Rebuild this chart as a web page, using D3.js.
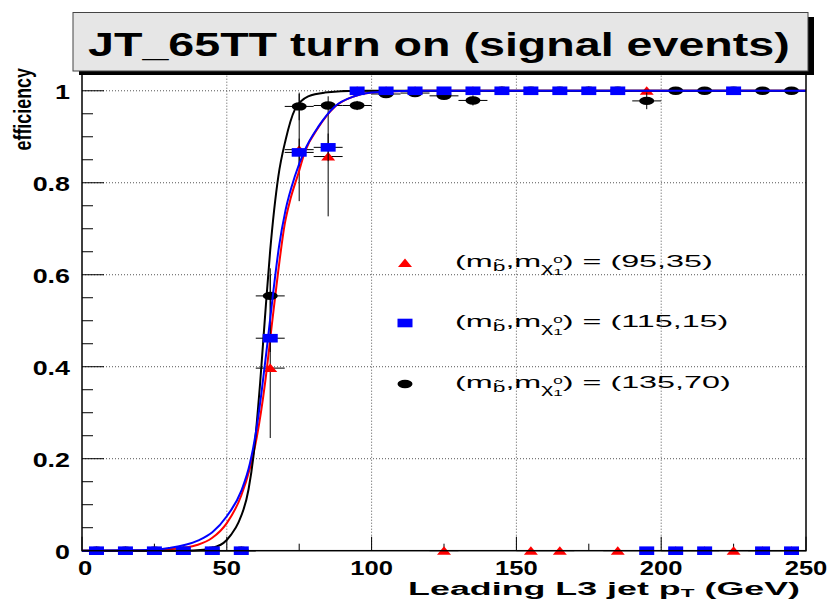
<!DOCTYPE html>
<html><head><meta charset="utf-8">
<script src="https://cdn.jsdelivr.net/npm/d3@7"></script>
<style>body{margin:0;background:#fff} svg{display:block}</style>
</head><body>
<svg id="c" width="835" height="599"></svg>
<script>
// ---------------- data ----------------
const binCenters = [5,15,25,35,45,55,65,75,85,95,105,115,125,135,145,155,165,175,185,195,205,215,225,235,245];
const binHalfWidth = 5;

// (m_b~, m_chi) = (95,35)  red triangles
const effRed   = [0,0,0,0,0,0,0.397,0.872,0.857,1,1,1,0,1,1,0,0,1,0,1,0,0,0,0,0];
const errRedLo = [0,0,0,0,0,0,0.152,0.112,0.130,0,0,0,0,0,0,0,0,0,0,0,0,0,0,0,0];
const errRedHi = [0,0,0,0,0,0,0.203,0.121,0.095,0,0,0,0,0,0,0,0,0,0,0,0,0,0,0,0];

// (115,15) blue squares
const effBlue  = [0,0,0,0,0,0,0.462,0.866,0.877,1,1,1,1,1,1,1,1,1,1,0,0,0,1,0,0];
const errBlue  = [0,0,0,0,0,0,0.03,0.03,0.03,0,0,0,0,0,0,0,0,0,0,0,0,0,0,0,0];

// (135,70) black circles
const effBlack = [0,0,0,0,0,0,0.554,0.966,0.968,0.968,0.993,0.995,0.989,0.979,1,1,1,1,1,0.978,1,1,1,1,1];
const errBlack = [0,0,0,0,0,0,0.06,0.03,0.02,0.01,0.005,0.004,0.006,0.011,0,0,0,0,0,0.018,0,0,0,0,0];

// fitted turn-on curves [pT, efficiency]
const fitRed = [[0,0],[20,0.0005],[30,0.003],[40,0.013],[45,0.028],[50,0.06],[55,0.12],[58,0.18],[60.3,0.245],[63.2,0.364],[65.5,0.488],[67.8,0.61],[70,0.71],[72,0.765],[74.7,0.82],[77,0.868],[81.6,0.92],[87.3,0.965],[94,0.988],[100,0.996],[115,1],[250,1]];
const fitBlue = [[0,0],[20,0.001],[30,0.006],[40,0.022],[45,0.04],[50,0.075],[55,0.13],[58,0.19],[60,0.255],[62,0.345],[64,0.45],[66,0.56],[68,0.66],[70.3,0.741],[73.5,0.814],[77,0.872],[81.6,0.922],[87.3,0.966],[94,0.988],[100,0.996],[115,1],[250,1]];
const fitBlack = [[0,0],[35,0],[42,0.002],[46,0.008],[48.9,0.017],[51.5,0.035],[54,0.061],[57.5,0.133],[59.2,0.205],[61.5,0.364],[63.2,0.509],[65,0.654],[67.8,0.814],[70.3,0.893],[73.5,0.959],[78.1,0.988],[83.8,0.996],[95,1],[250,1]];

const xMajorTicks = [0,50,100,150,200,250];
const xMinorTicks = [25,75,125,175,225];
const yMajorTicks = [0,0.2,0.4,0.6,0.8,1];
const yMinorTicks = [0.05,0.1,0.15,0.25,0.3,0.35,0.45,0.5,0.55,0.65,0.7,0.75,0.85,0.9,0.95];
const yTickLabels = ["0","0.2","0.4","0.6","0.8","1"];
const xTickLabels = ["0","50","100","150","200","250"];

const titleText = "JT_65TT turn on (signal events)";
const legendMasses = ["(95,35)","(115,15)","(135,70)"];

// ---------------- drawing ----------------
const svg = d3.select("#c");
const x = d3.scaleLinear().domain([0,250]).range([82,806]);
const y = d3.scaleLinear().domain([0,1.043]).range([550.7,71]);
const FONT = "'Liberation Sans', Arial, Helvetica, sans-serif";

function stretch(g, textSel, target){
  const w = textSel.node().getBBox().width;
  g.attr("transform", g.attr("transform") + ` scale(${target/w},1)`);
}

svg.append("rect").attr("width",835).attr("height",599).attr("fill","#fff");

// grid
const grid = svg.append("g").attr("stroke","#555").attr("stroke-width",1).attr("stroke-dasharray","1,2");
grid.selectAll(".gx").data(xMajorTicks.filter(v=>v>0&&v<250)).enter().append("line")
  .attr("x1",d=>x(d)).attr("x2",d=>x(d)).attr("y1",y.range()[0]).attr("y2",y.range()[1]);
grid.selectAll(".gy").data(yMajorTicks.filter(v=>v>0)).enter().append("line")
  .attr("y1",d=>y(d)).attr("y2",d=>y(d)).attr("x1",x.range()[0]).attr("x2",x.range()[1]);

// ticks
const ticks = svg.append("g").attr("stroke","#000").attr("stroke-width",1);
ticks.selectAll(".tx").data(xMajorTicks).enter().append("line")
  .attr("x1",d=>x(d)).attr("x2",d=>x(d)).attr("y1",y(0)).attr("y2",y(0)-14);
ticks.selectAll(".tx2").data(xMinorTicks).enter().append("line")
  .attr("x1",d=>x(d)).attr("x2",d=>x(d)).attr("y1",y(0)).attr("y2",y(0)-7);
ticks.selectAll(".ty").data(yMajorTicks).enter().append("line")
  .attr("y1",d=>y(d)).attr("y2",d=>y(d)).attr("x1",x(0)).attr("x2",x(0)+22);
ticks.selectAll(".ty2").data(yMinorTicks).enter().append("line")
  .attr("y1",d=>y(d)).attr("y2",d=>y(d)).attr("x1",x(0)).attr("x2",x(0)+11);

// series
const series = [
  {eff:effRed, lo:errRedLo, hi:errRedHi, fit:fitRed, color:"#ff0000", marker:"tri"},
  {eff:effBlack, lo:errBlack, hi:errBlack, fit:fitBlack, color:"#000000", marker:"circ"},
  {eff:effBlue, lo:errBlue, hi:errBlue, fit:fitBlue, color:"#0000ff", marker:"sq"}
];
function drawMarker(g, type, color, cx, cy){
  if(type==="tri"){
    g.append("path").attr("d",`M${cx-7},${cy+4} L${cx+7},${cy+4} L${cx},${cy-4.5} Z`).attr("fill",color);
  } else if(type==="sq"){
    g.append("rect").attr("x",cx-7.5).attr("y",cy-4.3).attr("width",15).attr("height",8.6).attr("fill",color);
  } else {
    g.append("ellipse").attr("cx",cx).attr("cy",cy).attr("rx",7.5).attr("ry",4.2).attr("fill",color);
  }
}
const line = d3.line().x(d=>x(d[0])).y(d=>y(d[1])).curve(d3.curveMonotoneX);
series.forEach(s=>{
  const g = svg.append("g");
  binCenters.forEach((c,i)=>{
    g.append("line").attr("x1",x(c-binHalfWidth)).attr("x2",x(c+binHalfWidth))
      .attr("y1",y(s.eff[i])).attr("y2",y(s.eff[i])).attr("stroke","#000").attr("stroke-width",1);
    if(s.lo[i]>0 || s.hi[i]>0){
      g.append("line").attr("x1",x(c)).attr("x2",x(c))
        .attr("y1",y(s.eff[i]-s.lo[i])).attr("y2",y(Math.min(s.eff[i]+s.hi[i],1.043)))
        .attr("stroke","#000").attr("stroke-width",1);
    }
  });
  binCenters.forEach((c,i)=> drawMarker(g, s.marker, s.color, x(c), y(s.eff[i])));
  g.append("path").attr("d",line(s.fit)).attr("fill","none").attr("stroke",s.color).attr("stroke-width",2);
});

// frame
svg.append("rect").attr("x",x(0)).attr("y",y.range()[1]).attr("width",x(250)-x(0)).attr("height",y(0)-y.range()[1])
  .attr("fill","none").attr("stroke","#000").attr("stroke-width",1.5);

// tick labels
const TS = 1.28;
yMajorTicks.forEach((v,i)=>{
  const g = svg.append("g").attr("transform",`translate(70,${y(v)+8}) scale(${TS},1)`);
  g.append("text").attr("text-anchor","end").attr("font-family",FONT).attr("font-weight","bold")
    .attr("font-size",21).text(yTickLabels[i]);
});
xMajorTicks.forEach((v,i)=>{
  const g = svg.append("g").attr("transform",`translate(${x(v)+(v===0?3:0)},575) scale(${TS},1)`);
  g.append("text").attr("text-anchor","middle").attr("font-family",FONT).attr("font-weight","bold")
    .attr("font-size",20).text(xTickLabels[i]);
});

// axis titles
{
  const g = svg.append("g").attr("transform","translate(800,594.5)");
  const t = g.append("text").attr("text-anchor","end").attr("font-family",FONT).attr("font-weight","bold").attr("font-size",17.5);
  t.append("tspan").text("Leading L3 jet p");
  t.append("tspan").attr("font-size",11).attr("dy",2).text("T");
  t.append("tspan").attr("dy",-2).text(" (GeV)");
  stretch(g, t, 392);
}
{
  const g = svg.append("g").attr("transform","translate(31,68) rotate(-90)");
  const t = g.append("text").attr("text-anchor","end").attr("font-family","'Liberation Sans Narrow', "+FONT)
    .attr("font-weight","bold").attr("font-size",24).text("efficiency");
  stretch(g, t, 83);
}

// legend
const legendY = [263, 323, 384];
const legendMarkers = ["tri","sq","circ"];
const legendColors = ["#ff0000","#0000ff","#000000"];
let legScale = null;
legendMasses.forEach((m,i)=>{
  const mg = svg.append("g");
  drawMarker(mg, legendMarkers[i], legendColors[i], 405, legendY[i]);
  const g = svg.append("g").attr("transform",`translate(455,${legendY[i]+4})`);
  const t = g.append("text").attr("font-family",FONT).attr("font-size",17);
  t.append("tspan").text("(m");
  t.append("tspan").attr("font-size",12).attr("dy",4).text("b\u0303");
  t.append("tspan").attr("dy",-4).text(",m");
  t.append("tspan").attr("font-size",12).attr("dy",5).text("\u03c7");
  t.append("tspan").attr("font-size",9).attr("dy",-9).text("0");
  t.append("tspan").attr("font-size",9).attr("dx",-5).attr("dy",12).text("1");
  t.append("tspan").attr("dy",-8).text(") = " + m);
  if(legScale===null){ legScale = 258 / t.node().getBBox().width; }
  g.attr("transform", g.attr("transform") + ` scale(${legScale},1)`);
});

// title box
svg.append("rect").attr("x",79).attr("y",17).attr("width",735).attr("height",58).attr("fill","#000");
svg.append("rect").attr("x",73).attr("y",12.5).attr("width",735).attr("height",58.5)
  .attr("fill","#e6e6e6").attr("stroke","#444").attr("stroke-width",1);
{
  const g = svg.append("g").attr("transform","translate(88,56)");
  const t = g.append("text").attr("font-family",FONT).attr("font-weight","bold").attr("font-size",33).text(titleText);
  stretch(g, t, 702);
}
</script>
</body></html>
